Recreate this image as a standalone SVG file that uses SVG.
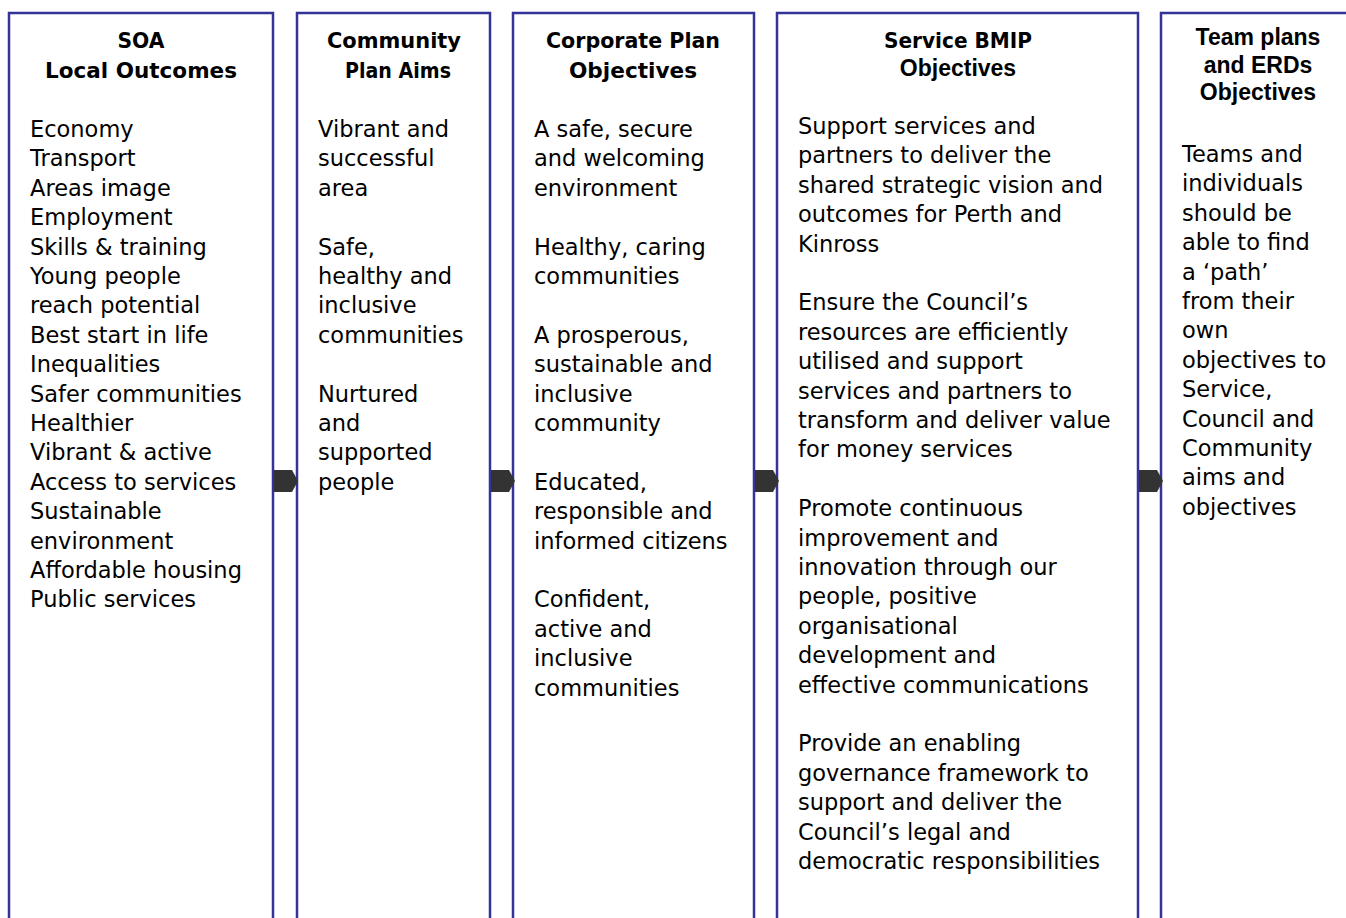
<svg xmlns="http://www.w3.org/2000/svg" width="1346" height="918" viewBox="0 0 1346 918">
  <style>
    .box { fill: #ffffff; stroke: #333399; stroke-width: 2.5; }
    .arrow { fill: #333333; stroke: none; }
    .hd { font-family: "DejaVu Sans", "Liberation Sans", sans-serif; font-weight: bold; font-size: 21.5px; fill: #000; text-anchor: middle; }
    .hda { font-family: "Liberation Sans", Arial, sans-serif; font-weight: bold; font-size: 23px; fill: #000; text-anchor: middle; }
    .body { font-family: "DejaVu Sans", "Liberation Sans", sans-serif; font-size: 22.5px; fill: #000; }
  </style>

  <rect width="1346" height="918" fill="#ffffff"/>

  <!-- column 1 -->
  <g id="soa">
    <rect class="box" x="9" y="13" width="264" height="930"/>
    <text class="hd" x="141" y="48" textLength="47" lengthAdjust="spacingAndGlyphs">SOA</text>
    <text class="hd" x="141" y="78" textLength="192" lengthAdjust="spacingAndGlyphs">Local Outcomes</text>
    <text class="body" x="30">
      <tspan x="30" y="137">Economy</tspan>
      <tspan x="30" y="166.4">Transport</tspan>
      <tspan x="30" y="195.8">Areas image</tspan>
      <tspan x="30" y="225.2">Employment</tspan>
      <tspan x="30" y="254.6">Skills &amp; training</tspan>
      <tspan x="30" y="284">Young people</tspan>
      <tspan x="30" y="313.4">reach potential</tspan>
      <tspan x="30" y="342.8">Best start in life</tspan>
      <tspan x="30" y="372.2">Inequalities</tspan>
      <tspan x="30" y="401.6">Safer communities</tspan>
      <tspan x="30" y="431">Healthier</tspan>
      <tspan x="30" y="460.4">Vibrant &amp; active</tspan>
      <tspan x="30" y="489.8">Access to services</tspan>
      <tspan x="30" y="519.2">Sustainable</tspan>
      <tspan x="30" y="548.6">environment</tspan>
      <tspan x="30" y="578">Affordable housing</tspan>
      <tspan x="30" y="607.4">Public services</tspan>
    </text>
  </g>

  <!-- column 2 -->
  <g id="community-plan">
    <rect class="box" x="297" y="13" width="193" height="930"/>
    <text class="hd" x="394" y="48" textLength="134" lengthAdjust="spacingAndGlyphs">Community</text>
    <text class="hd" x="398" y="78" textLength="106" lengthAdjust="spacingAndGlyphs">Plan Aims</text>
    <text class="body">
      <tspan x="318" y="137">Vibrant and</tspan>
      <tspan x="318" y="166.4">successful</tspan>
      <tspan x="318" y="195.8">area</tspan>
      <tspan x="318" y="254.6">Safe,</tspan>
      <tspan x="318" y="284">healthy and</tspan>
      <tspan x="318" y="313.4">inclusive</tspan>
      <tspan x="318" y="342.8">communities</tspan>
      <tspan x="318" y="401.6">Nurtured</tspan>
      <tspan x="318" y="431">and</tspan>
      <tspan x="318" y="460.4">supported</tspan>
      <tspan x="318" y="489.8">people</tspan>
    </text>
  </g>

  <!-- column 3 -->
  <g id="corporate-plan">
    <rect class="box" x="513" y="13" width="241" height="930"/>
    <text class="hd" x="633" y="48" textLength="174" lengthAdjust="spacingAndGlyphs">Corporate Plan</text>
    <text class="hd" x="633" y="78" textLength="128" lengthAdjust="spacingAndGlyphs">Objectives</text>
    <text class="body">
      <tspan x="534" y="137">A safe, secure</tspan>
      <tspan x="534" y="166.4">and welcoming</tspan>
      <tspan x="534" y="195.8">environment</tspan>
      <tspan x="534" y="254.6">Healthy, caring</tspan>
      <tspan x="534" y="284">communities</tspan>
      <tspan x="534" y="342.8">A prosperous,</tspan>
      <tspan x="534" y="372.2">sustainable and</tspan>
      <tspan x="534" y="401.6">inclusive</tspan>
      <tspan x="534" y="431">community</tspan>
      <tspan x="534" y="489.8">Educated,</tspan>
      <tspan x="534" y="519.2">responsible and</tspan>
      <tspan x="534" y="548.6">informed citizens</tspan>
      <tspan x="534" y="607.4">Confident,</tspan>
      <tspan x="534" y="636.8">active and</tspan>
      <tspan x="534" y="666.2">inclusive</tspan>
      <tspan x="534" y="695.6">communities</tspan>
    </text>
  </g>

  <!-- column 4 -->
  <g id="service-bmip">
    <rect class="box" x="777" y="13" width="361" height="930"/>
    <text class="hd" x="958" y="48" textLength="148" lengthAdjust="spacingAndGlyphs">Service BMIP</text>
    <text class="hda" x="958" y="76">Objectives</text>
    <text class="body">
      <tspan x="798" y="134">Support services and</tspan>
      <tspan x="798" y="163.4">partners to deliver the</tspan>
      <tspan x="798" y="192.8">shared strategic vision and</tspan>
      <tspan x="798" y="222.2">outcomes for Perth and</tspan>
      <tspan x="798" y="251.6">Kinross</tspan>
      <tspan x="798" y="310.4">Ensure the Council’s</tspan>
      <tspan x="798" y="339.8">resources are efficiently</tspan>
      <tspan x="798" y="369.2">utilised and support</tspan>
      <tspan x="798" y="398.6">services and partners to</tspan>
      <tspan x="798" y="428">transform and deliver value</tspan>
      <tspan x="798" y="457.4">for money services</tspan>
      <tspan x="798" y="516.2">Promote continuous</tspan>
      <tspan x="798" y="545.6">improvement and</tspan>
      <tspan x="798" y="575">innovation through our</tspan>
      <tspan x="798" y="604.4">people, positive</tspan>
      <tspan x="798" y="633.8">organisational</tspan>
      <tspan x="798" y="663.2">development and</tspan>
      <tspan x="798" y="692.6">effective communications</tspan>
      <tspan x="798" y="751.4">Provide an enabling</tspan>
      <tspan x="798" y="780.8">governance framework to</tspan>
      <tspan x="798" y="810.2">support and deliver the</tspan>
      <tspan x="798" y="839.6">Council’s legal and</tspan>
      <tspan x="798" y="869">democratic responsibilities</tspan>
    </text>
  </g>

  <!-- column 5 -->
  <g id="team-plans">
    <rect class="box" x="1161" y="13" width="220" height="930"/>
    <text class="hda" x="1258" y="45">Team plans</text>
    <text class="hda" x="1258" y="72.5">and ERDs</text>
    <text class="hda" x="1258" y="100">Objectives</text>
    <text class="body">
      <tspan x="1182" y="162">Teams and</tspan>
      <tspan x="1182" y="191.4">individuals</tspan>
      <tspan x="1182" y="220.8">should be</tspan>
      <tspan x="1182" y="250.2">able to find</tspan>
      <tspan x="1182" y="279.6">a ‘path’</tspan>
      <tspan x="1182" y="309">from their</tspan>
      <tspan x="1182" y="338.4">own</tspan>
      <tspan x="1182" y="367.8">objectives to</tspan>
      <tspan x="1182" y="397.2">Service,</tspan>
      <tspan x="1182" y="426.6">Council and</tspan>
      <tspan x="1182" y="456">Community</tspan>
      <tspan x="1182" y="485.4">aims and</tspan>
      <tspan x="1182" y="514.8">objectives</tspan>
    </text>
  </g>

  <!-- connectors: pentagon arrows between columns -->
  <g id="connectors">
    <polygon class="arrow" points="274,470 292,470 298,481 292,492 274,492"/>
    <polygon class="arrow" points="491,470 509,470 515,481 509,492 491,492"/>
    <polygon class="arrow" points="755,470 773,470 779,481 773,492 755,492"/>
    <polygon class="arrow" points="1139,470 1157,470 1163,481 1157,492 1139,492"/>
  </g>
</svg>
